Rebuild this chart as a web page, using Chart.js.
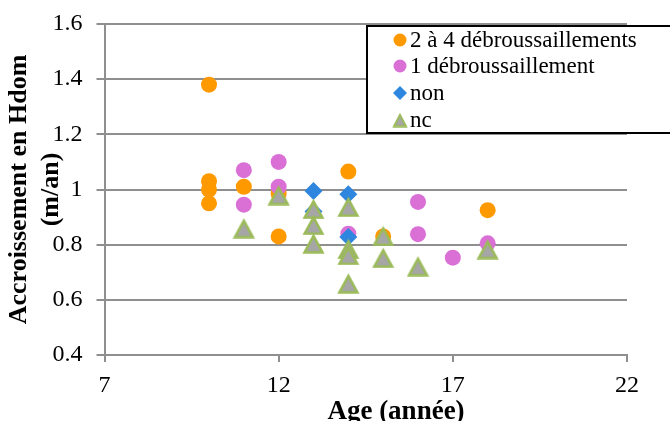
<!DOCTYPE html>
<html>
<head>
<meta charset="utf-8">
<script src="https://cdn.jsdelivr.net/npm/chart.js@4.4.1/dist/chart.umd.min.js"></script>
<style>
  html, body { margin: 0; padding: 0; background: #fff; }
  #wrap { width: 670px; height: 421px; position: relative; }
</style>
</head>
<body>
<div id="wrap"><canvas id="chart"></canvas></div>
<script>
// Hdom growth (m/an) against stand age, by number of brush clearings
const seriesNames = ['2 à 4 débroussaillements', '1 débroussaillement', 'non', 'nc'];

const ageMulti = [10, 10, 10, 10, 11, 12, 12, 14, 15, 18];
const growthMulti = [1.38, 1.03, 1.0, 0.95, 1.01, 0.985, 0.83, 1.065, 0.83, 0.925];

const ageOne = [11, 11, 12, 12, 14, 16, 16, 17, 18];
const growthOne = [1.07, 0.945, 1.10, 1.01, 0.84, 0.955, 0.838, 0.753, 0.805];

const ageNone = [13, 13, 14, 14];
const growthNone = [0.995, 0.92, 0.983, 0.828];

const ageNc = [11, 12, 13, 13, 13, 14, 14, 14, 14, 15, 15, 16, 18];
const growthNc = [0.86, 0.98, 0.93, 0.872, 0.805, 0.938, 0.785, 0.763, 0.66, 0.832, 0.753, 0.722, 0.784];

const xTicks = [7, 12, 17, 22];
const yTicks = [0.4, 0.6, 0.8, 1, 1.2, 1.4, 1.6];

const SERIF = "'Liberation Serif', 'Times New Roman', serif";
const AXIS_GREY = '#8f8f8f';

const toPoints = (xs, ys) => xs.map((x, i) => ({ x, y: ys[i] }));

// grey triangle with green outline, centred on its bounding box
function makeTriangle(w, h, lw) {
    const c = document.createElement('canvas');
    c.width = w;
    c.height = h;
    const g = c.getContext('2d');
    g.beginPath();
    g.moveTo(w / 2, lw * 1.2);
    g.lineTo(w - lw, h - lw * 0.6);
    g.lineTo(lw, h - lw * 0.6);
    g.closePath();
    g.fillStyle = '#a6a6a6';
    g.fill();
    g.lineWidth = lw;
    g.strokeStyle = '#9bbb59';
    g.lineJoin = 'miter';
    g.stroke();
    return c;
}

const triPoint = makeTriangle(23, 21, 2.6);
const triLegend = makeTriangle(16, 15, 2);

const styles = [
    { pointStyle: 'circle', pointRadius: 8, color: '#ff9900', legendStyle: 'circle', legendRadius: 6.5 },
    { pointStyle: 'circle', pointRadius: 8, color: '#da70d6', legendStyle: 'circle', legendRadius: 6.5 },
    { pointStyle: 'rectRot', pointRadius: 9, color: '#2e86de', legendStyle: 'rectRot', legendRadius: 7 },
    { pointStyle: triPoint, pointRadius: 10, color: '#a6a6a6', legendStyle: triLegend, legendRadius: 7 }
];

const seriesData = [
    toPoints(ageMulti, growthMulti),
    toPoints(ageOne, growthOne),
    toPoints(ageNone, growthNone),
    toPoints(ageNc, growthNc)
];

// boxed legend in the upper right, drawn over the grid
const boxLegend = {
    id: 'boxLegend',
    afterDraw(chart) {
        const ctx = chart.ctx;
        const left = 367, top = 26, bottom = 133;
        ctx.save();
        ctx.fillStyle = '#fff';
        ctx.fillRect(left, top, 320, bottom - top);
        ctx.strokeStyle = '#000';
        ctx.lineWidth = 2;
        ctx.strokeRect(left, top, 320, bottom - top);

        const rows = [40, 66, 93, 120];
        ctx.font = '23px ' + SERIF;
        ctx.textBaseline = 'middle';
        ctx.textAlign = 'left';
        seriesNames.forEach((name, i) => {
            const s = styles[i];
            ctx.fillStyle = s.color;
            Chart.helpers.drawPoint(ctx, {
                pointStyle: s.legendStyle,
                radius: s.legendRadius,
                rotation: 0,
                borderWidth: 0
            }, 400, rows[i]);
            ctx.fillStyle = '#000';
            ctx.fillText(name, 410, rows[i] + 1);
        });
        ctx.restore();
    }
};

// x-axis title, set a little right of the axis centre
const xTitle = {
    id: 'xTitle',
    afterDraw(chart) {
        const ctx = chart.ctx;
        ctx.save();
        ctx.font = 'bold 27px ' + SERIF;
        ctx.fillStyle = '#000';
        ctx.textAlign = 'center';
        ctx.textBaseline = 'alphabetic';
        ctx.fillText('Age (année)', 396, 419);
        ctx.restore();
    }
};

new Chart(document.getElementById('chart'), {
    type: 'scatter',
    data: {
        datasets: seriesData.map((pts, i) => ({
            label: seriesNames[i],
            data: pts,
            pointStyle: styles[i].pointStyle,
            pointRadius: styles[i].pointRadius,
            pointHoverRadius: styles[i].pointRadius,
            backgroundColor: styles[i].color,
            borderColor: styles[i].color,
            borderWidth: 0,
            order: 4 - i
        }))
    },
    options: {
        responsive: true,
        maintainAspectRatio: false,
        animation: false,
        layout: { padding: { top: 24, right: 43, left: 0, bottom: 0 } },
        plugins: {
            legend: { display: false },
            tooltip: { enabled: false }
        },
        scales: {
            x: {
                type: 'linear',
                min: 7,
                max: 22,
                afterBuildTicks: (scale) => { scale.ticks = xTicks.map(v => ({ value: v })); },
                afterFit: (scale) => { scale.height = 66; },
                grid: {
                    drawOnChartArea: false,
                    drawTicks: true,
                    tickLength: 7,
                    color: AXIS_GREY,
                    lineWidth: 2
                },
                border: { color: AXIS_GREY, width: 2 },
                ticks: {
                    color: '#000',
                    padding: 9,
                    maxRotation: 0,
                    font: { family: SERIF, size: 24 }
                }
            },
            y: {
                min: 0.4,
                max: 1.6,
                afterBuildTicks: (scale) => { scale.ticks = yTicks.map(v => ({ value: v })); },
                afterFit: (scale) => { scale.width = 104.5; },
                grid: {
                    color: AXIS_GREY,
                    lineWidth: 2,
                    tickLength: 8
                },
                border: { color: AXIS_GREY, width: 2 },
                ticks: {
                    color: '#000',
                    padding: 14,
                    // small line height keeps the top label from pushing the plot down
                    font: { family: SERIF, size: 24, lineHeight: 0.4 },
                    callback: (v) => String(Math.round(v * 10) / 10)
                },
                title: {
                    display: true,
                    text: ['Accroissement en Hdom', '(m/an)'],
                    color: '#000',
                    padding: { top: 4, bottom: 0 },
                    font: { family: SERIF, size: 26, weight: 'bold', lineHeight: 1.2 }
                }
            }
        }
    },
    plugins: [boxLegend, xTitle]
});
</script>
</body>
</html>
